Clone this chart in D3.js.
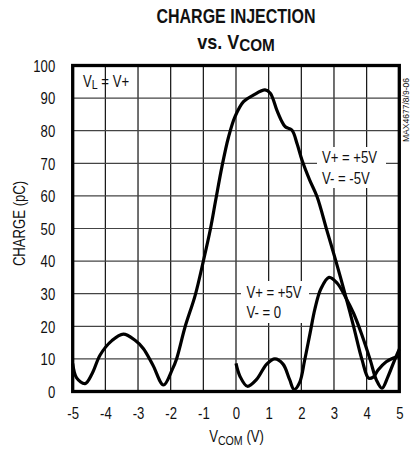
<!DOCTYPE html>
<html>
<head>
<meta charset="utf-8">
<script src="https://cdn.jsdelivr.net/npm/d3@7"></script>
<style>
  html, body { margin: 0; padding: 0; background: #fff; }
  svg { display: block; }
  text { font-family: "Liberation Sans", Arial, sans-serif; fill: #111; }
</style>
</head>
<body>
<svg id="chart" width="410" height="453"></svg>
<script>
// x ticks (V) and y ticks (pC)
const xTicks = [-5, -4, -3, -2, -1, 0, 1, 2, 3, 4, 5];
const yTicks = [0, 10, 20, 30, 40, 50, 60, 70, 80, 90, 100];

// V+ = +5V, V- = -5V  (VCOM, charge pC)
const bipolarVcom   = [-5, -4.88, -4.62, -4.4, -4.16, -3.8, -3.45, -3.1, -2.84, -2.55, -2.22, -1.95, -1.82, -1.56, -1.25, -1.0, -0.78, -0.62, -0.43, -0.23, -0.03, 0.23, 0.53, 0.89, 1.05, 1.25, 1.38, 1.51, 1.71, 1.87, 2.02, 2.25, 2.48, 2.78, 3.05, 3.35, 3.6, 3.86, 4.06, 4.2, 4.35, 4.6, 4.8, 5];
const bipolarCharge = [8.6, 4.2, 2.4, 5.6, 11.2, 15.6, 17.6, 15.8, 13.2, 8.2, 2.0, 6.8, 10, 19.8, 29.5, 40, 50, 58.8, 69, 78, 84.3, 88.9, 90.9, 92.5, 91.5, 86.3, 83.3, 81.2, 80.2, 76, 71, 65, 59.8, 49.5, 40.3, 29.5, 20, 9.7, 4.1, 4.4, 6.6, 9.1, 10.2, 10.8];

// V+ = +5V, V- = 0
const singleVcom   = [0, 0.12, 0.35, 0.63, 0.94, 1.19, 1.44, 1.64, 1.78, 1.95, 2.1, 2.27, 2.42, 2.6, 2.85, 3.1, 3.35, 3.6, 3.85, 4.11, 4.3, 4.47, 4.65, 4.85, 5];
const singleCharge = [8.6, 4.7, 1.6, 3.7, 8.4, 10, 8.4, 3.7, 0.6, 2.8, 9.5, 18, 25.5, 31.5, 35, 33.2, 29, 24, 17.5, 9.7, 3.5, 1, 4.5, 9.5, 13];

const NARROW = 0.82;

const svg = d3.select("#chart");

const x = d3.scaleLinear().domain([-5, 5]).range([72.7, 399.3]);
const y = d3.scaleLinear().domain([0, 100]).range([391.5, 65.5]);

// squeeze a text horizontally (stand-in for the condensed face)
function narrow(sel, k, rot) {
    sel.each(function() {
        const t = d3.select(this);
        const tx = +t.attr("x") || 0, ty = +t.attr("y") || 0;
        t.attr("x", 0).attr("y", 0)
            .attr("transform", `translate(${tx},${ty})${rot ? ` rotate(${rot})` : ""} scale(${k || NARROW},1)`);
    });
}

// title
svg.append("text")
    .attr("x", 236).attr("y", 22.5)
    .attr("text-anchor", "middle")
    .style("font-size", "20px").style("font-weight", "bold")
    .text("CHARGE INJECTION")
    .call(narrow, 0.8);

const sub = svg.append("text")
    .attr("x", 236).attr("y", 48.5)
    .attr("text-anchor", "middle")
    .style("font-size", "20px").style("font-weight", "bold");
sub.append("tspan").text("vs. V");
sub.append("tspan").attr("dy", 2).style("font-size", "17px").text("COM");
sub.call(narrow, 0.9);

// grid
const grid = svg.append("g").attr("id", "grid");
grid.selectAll("line.v")
    .data(xTicks.slice(1, -1))
    .enter().append("line")
    .attr("x1", d => x(d)).attr("x2", d => x(d))
    .attr("y1", y(0)).attr("y2", y(100))
    .attr("stroke", "#111").attr("stroke-width", 1.2);
grid.selectAll("line.h")
    .data(yTicks.slice(1, -1))
    .enter().append("line")
    .attr("x1", x(-5)).attr("x2", x(5))
    .attr("y1", d => y(d)).attr("y2", d => y(d))
    .attr("stroke", "#444").attr("stroke-width", 1.2);

// annotation boxes mask the grid
function label(lines, x0, y0, boxed, lineGap) {
    const g = svg.append("g");
    if (boxed) {
        g.append("rect")
            .attr("x", boxed[0]).attr("y", boxed[1])
            .attr("width", boxed[2]).attr("height", boxed[3])
            .attr("fill", "#fff");
    }
    lines.forEach((ln, i) => {
        const t = g.append("text")
            .attr("x", x0).attr("y", y0 + i * lineGap)
            .style("font-size", "16px");
        ln.forEach(part => {
            const s = t.append("tspan").text(part.t);
            if (part.sub) s.attr("dy", 2.5).style("font-size", "13px");
            if (part.back) s.attr("dy", -2.5);
        });
        t.call(narrow);
    });
}

label([[{t: "V"}, {t: "L", sub: true}, {t: " = V+", back: true}]], 83, 86.7, null, 0);
label([[{t: "V+ = +5V"}], [{t: "V- = -5V"}]], 322, 163.3, [317, 147, 69, 41], 20.5);
label([[{t: "V+ = +5V"}], [{t: "V- = 0"}]], 246.5, 297.7, [241, 281, 68, 42], 20.6);

// curves
const line = d3.line()
    .x(d => x(d[0]))
    .y(d => y(d[1]))
    .curve(d3.curveCatmullRom.alpha(0.5));

svg.append("path")
    .datum(d3.zip(bipolarVcom, bipolarCharge))
    .attr("d", line)
    .attr("fill", "none").attr("stroke", "#000")
    .attr("stroke-width", 3.2).attr("stroke-linejoin", "round");

svg.append("path")
    .datum(d3.zip(singleVcom, singleCharge))
    .attr("d", line)
    .attr("fill", "none").attr("stroke", "#000")
    .attr("stroke-width", 3.2).attr("stroke-linejoin", "round");

// frame
svg.append("rect")
    .attr("x", x(-5)).attr("y", y(100))
    .attr("width", x(5) - x(-5)).attr("height", y(0) - y(100))
    .attr("fill", "none").attr("stroke", "#000").attr("stroke-width", 3.3);

// axes
const xAxis = svg.append("g")
    .attr("transform", `translate(0,${y(0)})`)
    .call(d3.axisBottom(x).tickValues(xTicks).tickSize(0).tickFormat(d => String(d)));
xAxis.select(".domain").remove();
xAxis.selectAll("text")
    .attr("y", 27.5).attr("dy", null)
    .attr("font-family", null).attr("font-size", null)
    .style("font-size", "16px").attr("fill", "#111")
    .call(narrow);

const yAxis = svg.append("g")
    .attr("transform", `translate(${x(-5)},0)`)
    .call(d3.axisLeft(y).tickValues(yTicks).tickSize(0).tickFormat(d => String(d)));
yAxis.select(".domain").remove();
yAxis.selectAll("text")
    .attr("x", -17.5).attr("dy", "0.36em")
    .attr("font-family", null).attr("font-size", null)
    .style("font-size", "16px").attr("fill", "#111")
    .call(narrow);

// axis titles
const xt = svg.append("text")
    .attr("x", 236.5).attr("y", 441.7)
    .attr("text-anchor", "middle")
    .style("font-size", "16px");
xt.append("tspan").text("V");
xt.append("tspan").attr("dy", 3).style("font-size", "13px").text("COM");
xt.append("tspan").attr("dy", -3).text(" (V)");
xt.call(narrow);

svg.append("text")
    .attr("x", 24.5).attr("y", 223.5)
    .attr("text-anchor", "middle")
    .style("font-size", "16px")
    .text("CHARGE (pC)")
    .call(narrow, NARROW, -90);

// part number tag
svg.append("text")
    .attr("x", 409).attr("y", 142)
    .attr("text-anchor", "start")
    .style("font-size", "9px").attr("fill", "#555")
    .text("MAX4677/8/9-06")
    .call(narrow, 0.95, -90);
</script>
</body>
</html>
